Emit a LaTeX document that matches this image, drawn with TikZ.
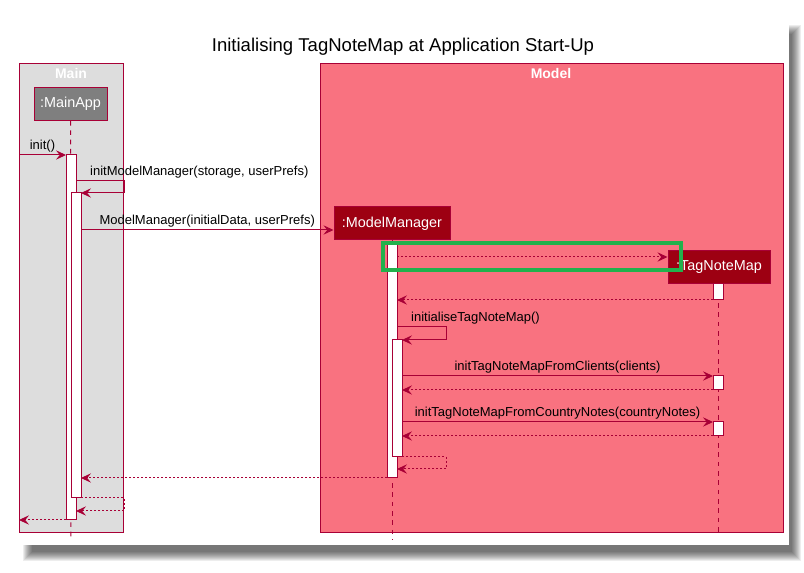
\documentclass[tikz,border=0pt]{standalone}
\usepackage{fontspec}
\setmainfont{Liberation Sans}
\usetikzlibrary{arrows.meta, positioning}
\definecolor{umlred}{RGB}{168,0,54}
\definecolor{boxmain}{RGB}{221,221,221}
\definecolor{boxmodel}{RGB}{249,114,128}
\definecolor{partgrey}{RGB}{127,127,127}
\definecolor{partred}{RGB}{157,0,18}
\definecolor{hilite}{RGB}{34,177,76}
\tikzset{every picture/.style={line width=0.75pt}}

\begin{document}
\begin{tikzpicture}[x=0.75pt,y=-0.75pt,
    font=\fontsize{9.75}{11}\selectfont,
    group/.style={draw=umlred, line width=0.75pt},
    grouptitle/.style={text=white, font=\fontsize{10.5}{12}\selectfont\bfseries},
    actor/.style={draw=umlred, fill=partred, text=white, font=\fontsize{10.8}{12}\selectfont, minimum height=24.75pt, inner sep=0pt},
    bar/.style={draw=umlred, fill=white, minimum width=7.5pt, inner sep=0pt, outer sep=0pt, anchor=north},
    life/.style={draw=umlred, dash pattern=on 3.5pt off 3.5pt},
    msg/.style={draw=umlred, -{Stealth[length=7.5pt,width=7pt,inset=2.8pt]}},
    ret/.style={msg, dash pattern=on 1.5pt off 1.5pt},
    lbl/.style={above, inner sep=2pt, text=black}]
    \useasboundingbox (0,0) rectangle (804,573);
    % card with its shadow
    \fill[white] (0,0) rectangle (804,573);
    \foreach \k in {0,...,9}
        \fill[black, opacity=0.07] (23+\k,25+\k) rectangle (801-\k,561-\k);
    \fill[white] (18,20) rectangle (789,545);

    \node[font=\fontsize{13.9}{16}\selectfont] (title) at (403,47) {Initialising TagNoteMap at Application Start-Up};

    % boxes
    \draw[group, fill=boxmain] (19,64) rectangle (123,533);
    \draw[group, fill=boxmodel] (320,64) rectangle (783,533);
    \node[grouptitle] (maintitle) at (71,74) {Main};
    \node[grouptitle] (modeltitle) at (551,74) {Model};

    % participants
    \node[actor, fill=partgrey, minimum width=54.75pt] (mainapp) at (70.5,104) {:MainApp};
    \node[actor, minimum width=87pt] (modelmgr) at (392,223.5) {:ModelManager};
    \node[actor, minimum width=76.5pt] (tagmap) at (719,267.5) {:TagNoteMap};

    % lifelines
    \coordinate (mainend) at (71,540);
    \coordinate (mmend) at (392,540);
    \coordinate (tnend) at (718,535);
    \draw[life] (mainapp.south) -- (mainend);
    \draw[life] (modelmgr.south) -- (mmend);
    \draw[life] (tagmap.south -| tnend) -- (tnend);

    % activations
    \node[bar, minimum height=273.75pt] (mainA) at (71,155) {};
    \node[bar, minimum height=228.75pt] (mainB) at (76,193) {};
    \node[bar, minimum height=175.5pt] (mmA) at (392,244) {};
    \node[bar, minimum height=87.75pt] (mmB) at (397,340) {};
    \node[bar, minimum height=12pt] (tnA) at (718,284) {};
    \node[bar, minimum height=10.5pt] (tnB) at (718,376) {};
    \node[bar, minimum height=10.5pt] (tnC) at (718,422) {};

    % messages
    \coordinate (entry) at (19,155);
    \coordinate (exit) at (19,520);
    \draw[msg] (entry) -- node[lbl] {init()} (mainA.north west);
    \draw[msg] (mainA.east |- 0,181) -- ++(48,0) -- ++(0,12) -- (mainB.north east);
    \node[lbl, anchor=south west] (initmm) at (87,181) {initModelManager(storage, userPrefs)};
    \draw[msg] (mainB.east |- 0,230) -- node[lbl] {ModelManager(initialData, userPrefs)} (modelmgr.west |- 0,230);
    \draw[ret] (mmA.east |- 0,257) -- (tagmap.west |- 0,257);
    \draw[ret] (tnA.south west) -- (mmA.east |- tnA.south);
    \draw[msg] (mmA.east |- 0,327) -- ++(49,0) -- ++(0,13) -- (mmB.north east);
    \node[lbl, anchor=south west] (initmap) at (408,327) {initialiseTagNoteMap()};
    \draw[msg] (mmB.east |- tnB.north) -- node[lbl] {initTagNoteMapFromClients(clients)} (tnB.north west);
    \draw[ret] (tnB.south west) -- (mmB.east |- tnB.south);
    \draw[msg] (mmB.east |- tnC.north) -- node[lbl] {initTagNoteMapFromCountryNotes(countryNotes)} (tnC.north west);
    \draw[ret] (tnC.south west) -- (mmB.east |- tnC.south);
    \draw[ret] (mmB.south east) -- ++(44,0) -- ++(0,12) -- (mmA.east |- 0,469);
    \draw[ret] (mmA.south west) -- (mainB.east |- mmA.south);
    \draw[ret] (mainB.south east) -- ++(43,0) -- ++(0,13) -- (mainA.east |- 0,511);
    \draw[ret] (mainA.south west) -- (exit);

    % highlight
    \draw[hilite, line width=3pt] (383,243) rectangle (681,270);
\end{tikzpicture}
\end{document}
